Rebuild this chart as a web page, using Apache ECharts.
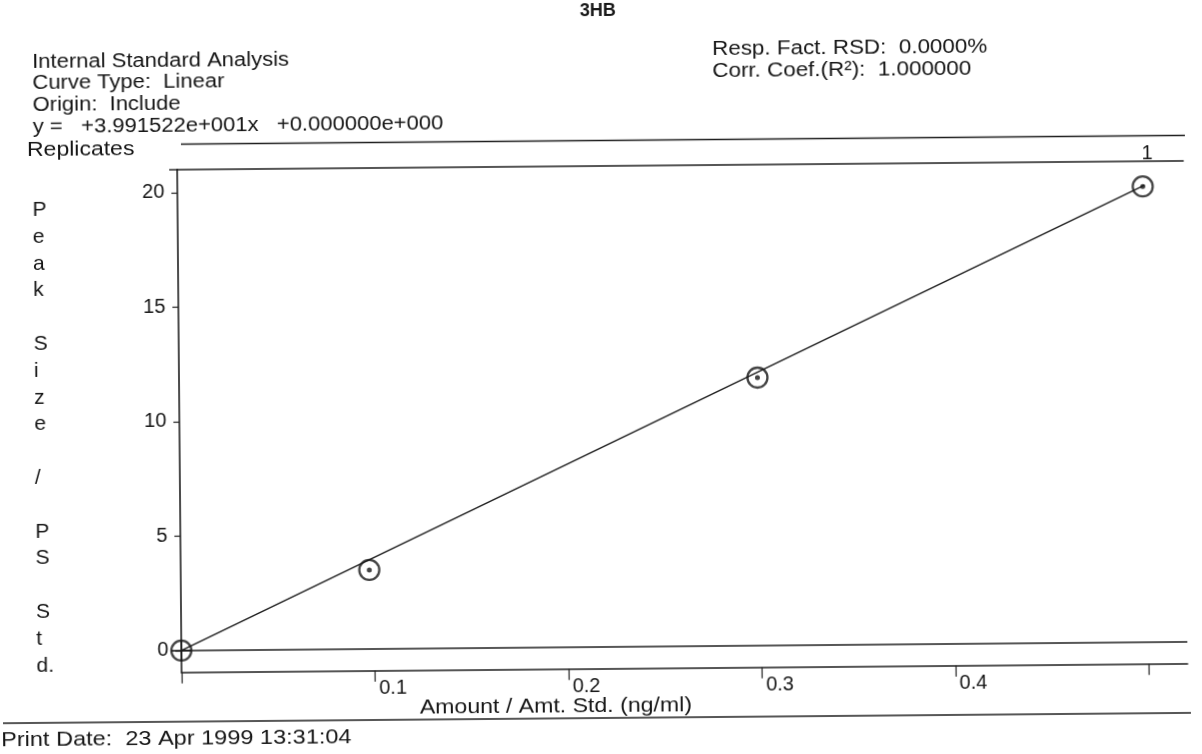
<!DOCTYPE html>
<html><head><meta charset="utf-8">
<script src="https://cdn.jsdelivr.net/npm/echarts@6/dist/echarts.min.js"></script>
<style>
html,body{margin:0;padding:0;background:#ffffff;overflow:hidden;}
#chart{width:1202px;height:754px;transform:rotate(-0.5deg);transform-origin:601px 377px;}
</style></head><body><div id="chart"></div>
<script>
// ---- data ----
const amounts = [0, 0.0975, 0.299, 0.499];          // Amount / Amt. Std.
const responses = [0, 3.45, 11.7, 19.9];            // Peak Size / PS Std.
const fitAmounts = [0, 0.5];                         // regression line ends
const fitResponses = [0, 19.96];
const xTickValues = [0, 0.1, 0.2, 0.3, 0.4, 0.5];
const xLabelValues = [0.1, 0.2, 0.3, 0.4];
const yTickValues = [0, 5, 10, 15, 20];
const replicateLabel = '1';
const titleText = '3HB';
const headerLeft = ['Internal Standard Analysis', 'Curve Type:  Linear', 'Origin:  Include', 'y =   +3.991522e+001x   +0.000000e+000'];
const headerRight = ['Resp. Fact. RSD:  0.0000%', 'Corr. Coef.(R\u00b2):  1.000000'];
const yTitleLetters = ['P','e','a','k','','S','i','z','e','','/','','P','S','','S','t','d.'];
const xTitle = 'Amount / Amt. Std. (ng/ml)';
const printDate = 'Print Date:  23 Apr 1999 13:31:04';

const FONT = '"Liberation Sans", Arial, Helvetica, sans-serif';
const INK = '#161616';
const LINE = '#1f1f1f';
const points = amounts.map((a, i) => [a, responses[i]]);
const fitLine = fitAmounts.map((a, i) => [a, fitResponses[i]]);
const plusPath = 'path://M9,0h2v20h-2z M0,9h20v2h-20z';

const chart = echarts.init(document.getElementById('chart'));

function txt(text, x, y, size, opts) {
  opts = opts || {};
  return {
    type: 'text', x: x, y: y, silent: true,
    scaleX: opts.scaleX || 1,
    style: {
      text: text, fill: INK, font: (opts.weight || 'normal') + ' ' + size + 'px ' + FONT,
      align: opts.align || 'left', verticalAlign: 'middle', lineHeight: opts.lineHeight
    }
  };
}

const graphics = [];
graphics.push(txt(titleText, 601, 11, 18, {weight: 'bold', align: 'center'}));
headerLeft.forEach((t, i) => graphics.push(txt(t, 35, 57 + i * 21.8, 20, {scaleX: 1.1})));
graphics.push(txt('Replicates', 29, 145, 20, {scaleX: 1.15}));
headerRight.forEach((t, i) => graphics.push(txt(t, 715, 50 + i * 22, 20, {scaleX: 1.12})));
graphics.push(txt(replicateLabel, 1149, 158, 20, {align: 'center'}));
graphics.push(txt(yTitleLetters.join('\n'), 34, 433, 21, {lineHeight: 26.8}));
graphics.push(txt(xTitle, 553, 706.5, 21, {align: 'center', scaleX: 1.1}));
graphics.push(txt(printDate, -2, 735, 21, {scaleX: 1.12}));
graphics.push({type: 'line', silent: true, shape: {x1: 183, y1: 140.5, x2: 1187, y2: 140.5}, style: {stroke: LINE, lineWidth: 1.6}});
graphics.push({type: 'line', silent: true, shape: {x1: 171, y1: 166, x2: 180, y2: 166}, style: {stroke: LINE, lineWidth: 1.4}});
graphics.push({type: 'line', silent: true, shape: {x1: 0, y1: 718, x2: 1188, y2: 718}, style: {stroke: LINE, lineWidth: 1.6}});

const option = {
  backgroundColor: '#ffffff',
  animation: false,
  grid: {left: 179, right: 17, top: 166, bottom: 85.3, containLabel: false},
  xAxis: [{
    type: 'value', min: 0, max: 0.52, position: 'bottom',
    axisLine: {onZero: false, lineStyle: {color: LINE, width: 1.6}},
    axisTick: {customValues: xTickValues, length: 11, inside: false, lineStyle: {color: LINE, width: 1.2}},
    axisLabel: {customValues: xLabelValues, align: 'left', margin: 8, padding: [0, 0, 0, 4], fontSize: 20, fontFamily: FONT, color: INK},
    splitLine: {show: false}
  }, {
    type: 'value', min: 0, max: 0.52, position: 'top',
    axisLine: {show: true, onZero: false, lineStyle: {color: LINE, width: 1.6}},
    axisTick: {show: false}, axisLabel: {show: false}, splitLine: {show: false}
  }],
  yAxis: {
    type: 'value', min: -0.95, max: 21,
    axisLine: {show: true, onZero: false, lineStyle: {color: LINE, width: 1.6}},
    axisTick: {show: true, customValues: yTickValues, length: 6, inside: false, lineStyle: {color: LINE, width: 1.2}},
    axisLabel: {customValues: yTickValues, margin: 13, fontSize: 20, fontFamily: FONT, color: INK},
    splitLine: {show: false}
  },
  series: [{
    type: 'line', name: 'Linear fit', data: fitLine, showSymbol: false, silent: true,
    lineStyle: {color: LINE, width: 1.5}, z: 2,
    markLine: {
      silent: true, symbol: ['none', 'none'], label: {show: false},
      lineStyle: {type: 'solid', color: LINE, width: 1.6},
      data: [{yAxis: 0}]
    }
  }, {
    type: 'scatter', name: 'Replicates', data: points, symbol: 'circle', symbolSize: 20,
    itemStyle: {color: 'rgba(255,255,255,0)', borderColor: INK, borderWidth: 2.3}, z: 4
  }, {
    type: 'scatter', name: 'Centers', data: points,
    symbol: (v) => v[0] === 0 ? plusPath : 'circle',
    symbolSize: (v) => v[0] === 0 ? 20 : 5,
    itemStyle: {color: INK}, z: 5
  }],
  graphic: graphics
};
chart.setOption(option);
</script></body></html>
